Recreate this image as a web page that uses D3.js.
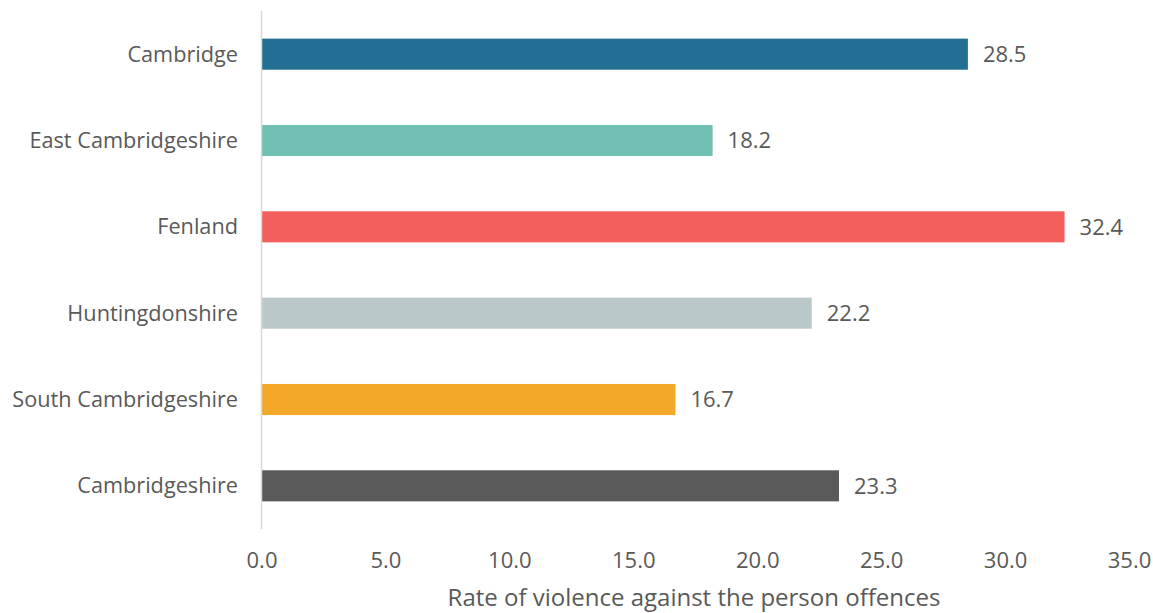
<!DOCTYPE html>
<html><head><meta charset="utf-8">
<script src="https://cdn.jsdelivr.net/npm/d3@7"></script>
<style>body{margin:0;background:#fff;} svg{display:block;} text{font-family:"Open Sans",sans-serif;fill:#595959;}</style>
</head><body>
<svg id="c" width="1153" height="613"></svg>
<script>
const categories = ["Cambridge","East Cambridgeshire","Fenland","Huntingdonshire","South Cambridgeshire","Cambridgeshire"];
const values = [28.5, 18.2, 32.4, 22.2, 16.7, 23.3];
const colors = ["#236f93","#70c1b3","#f25f5c","#bac8c9","#f3a829","#5a5a5a"];
const tickValues = [0,5,10,15,20,25,30,35];
const axisTitle = "Rate of violence against the person offences";

const svg = d3.select("#c");
const x = d3.scaleLinear().domain([0,35]).range([261.5,1129]);
const y = d3.scaleBand().domain(categories).range([11,529]).paddingInner(0.64).paddingOuter(0.32);

svg.selectAll("rect.bar").data(categories).enter().append("rect")
  .attr("x", x(0)).attr("y", d=>y(d))
  .attr("width", (d,i)=>x(values[i])-x(0)).attr("height", y.bandwidth())
  .attr("fill", (d,i)=>colors[i]);

svg.append("line").attr("x1",x(0)).attr("x2",x(0)).attr("y1",11).attr("y2",529)
  .attr("stroke","#d9d9d9").attr("stroke-width",1.5);

svg.selectAll("text.val").data(categories).enter().append("text")
  .attr("x",(d,i)=>x(values[i])+15).attr("y",d=>y(d)+y.bandwidth()/2)
  .attr("dy","0.35em").attr("font-size",22).text((d,i)=>values[i].toFixed(1));

svg.selectAll("text.cat").data(categories).enter().append("text")
  .attr("x",238).attr("y",d=>y(d)+y.bandwidth()/2).attr("dy","0.35em")
  .attr("text-anchor","end").attr("font-size",21.7).text(d=>d);

const xAxis = d3.axisBottom(x).tickValues(tickValues).tickFormat(d3.format(".1f")).tickSize(0).tickPadding(0);
const g = svg.append("g").attr("transform","translate(0,568)").call(xAxis);
g.select(".domain").remove();
g.selectAll("text").attr("font-size",22).attr("dy","0").style("font-family","Open Sans").attr("fill","#595959");

svg.append("text").attr("x",694).attr("y",606).attr("text-anchor","middle").attr("font-size",24).text(axisTitle);
</script>
</body></html>
